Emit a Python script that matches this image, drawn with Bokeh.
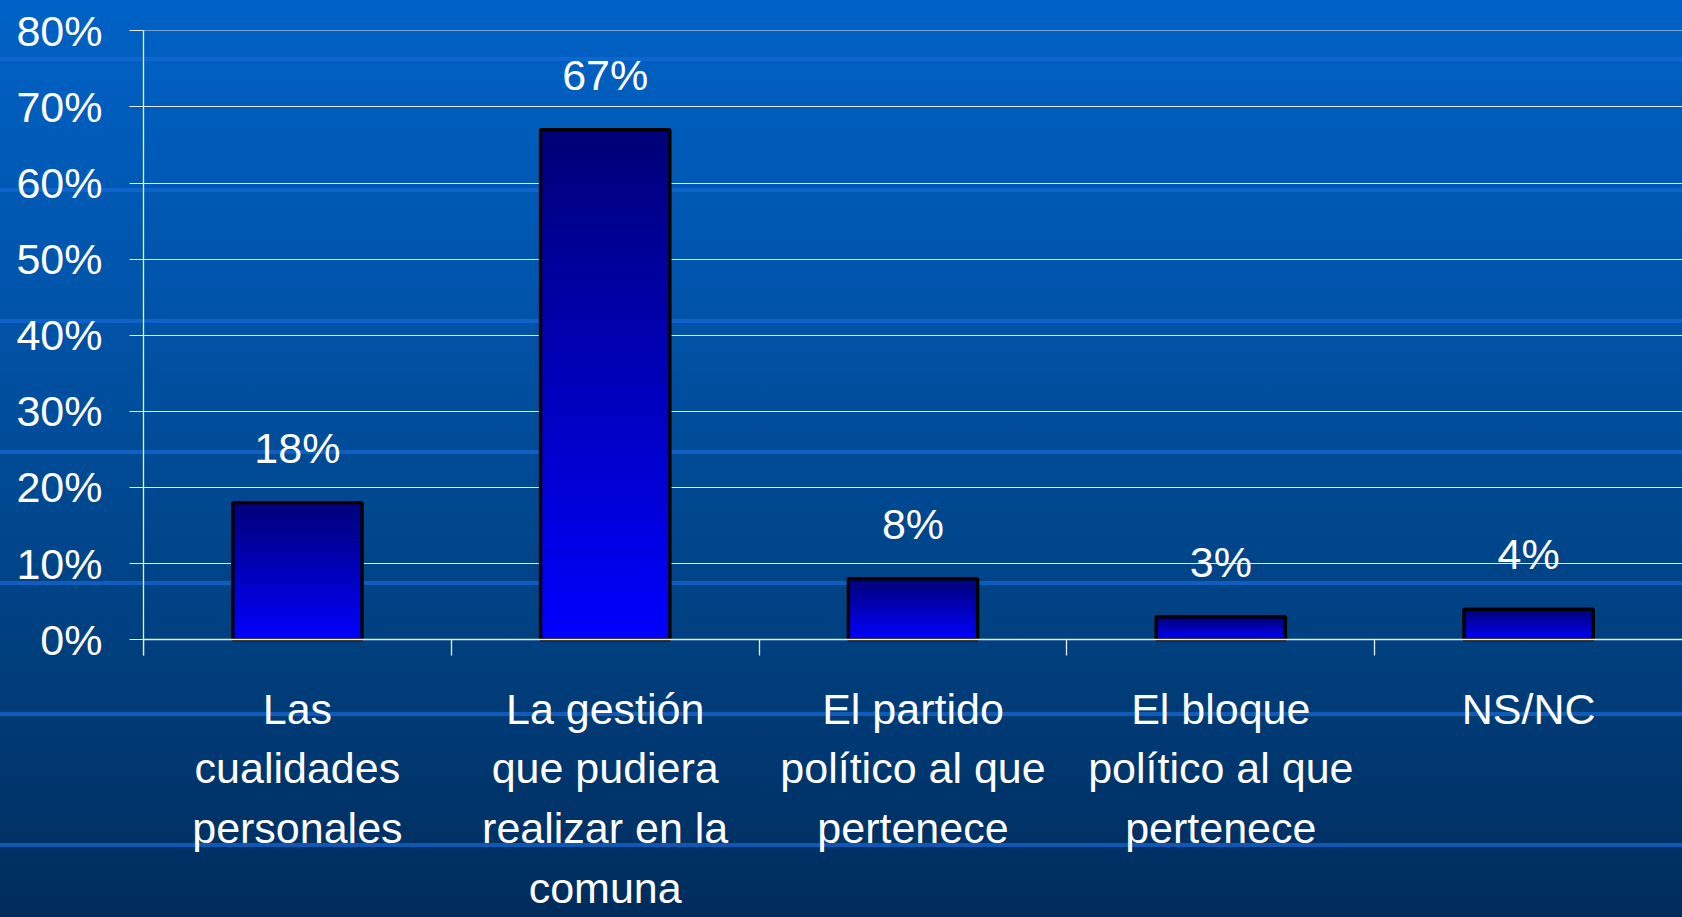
from bokeh.plotting import figure
from bokeh.models import (Range1d, LinearAxis, FixedTicker,
                          NumeralTickFormatter, ColumnDataSource, LabelSet)
from bokeh.core.properties import value
from bokeh.embed import file_html
from bokeh.resources import INLINE

# ---------------- data ----------------
categories = [
    "Las\ncualidades\npersonales",
    "La gestión\nque pudiera\nrealizar en la\ncomuna",
    "El partido\npolítico al que\npertenece",
    "El bloque\npolítico al que\npertenece",
    "NS/NC",
]
values = [0.18, 0.67, 0.08, 0.03, 0.04]
value_labels = ["18%", "67%", "8%", "3%", "4%"]
y_ticks = [0.0, 0.1, 0.2, 0.3, 0.4, 0.5, 0.6, 0.7, 0.8]

FONT = "Liberation Sans"
WHITE = "#ffffff"
LINE = "#e8eef8"

n = len(categories)
centers = [i + 0.5 for i in range(n)]      # category slot centres
bounds_ticks = [float(i) for i in range(n)]  # slot boundaries

p = figure(
    x_range=Range1d(0, n),
    y_range=Range1d(-0.3652, 0.8005),
    width=1682, height=917,
    output_backend="svg", toolbar_location=None,
    min_border_left=143, min_border_right=0,
    min_border_top=30, min_border_bottom=0,
)
p.background_fill_alpha = 0
p.border_fill_alpha = 0
p.outline_line_color = None

# ---- bars with a vertical gradient (dark navy top -> bright blue bottom) ----
N = 30
top_rgb = (0, 0, 120)
bot_rgb = (0, 0, 255)
gx, gb, gt, gc = [], [], [], []
for c, v in zip(centers, values):
    for k in range(N):
        t = (k + 0.5) / N  # 0 at bottom, 1 at top
        r = round(bot_rgb[0] + (top_rgb[0] - bot_rgb[0]) * t)
        g = round(bot_rgb[1] + (top_rgb[1] - bot_rgb[1]) * t)
        b = round(bot_rgb[2] + (top_rgb[2] - bot_rgb[2]) * t)
        gx.append(c)
        gb.append(v * k / N)
        gt.append(v * (k + 1) / N)
        gc.append("#%02x%02x%02x" % (r, g, b))
grad = ColumnDataSource(dict(x=gx, bottom=gb, top=gt, color=gc))
p.vbar(x="x", bottom="bottom", top="top", width=0.42, source=grad,
       fill_color="color", line_color="color", line_width=0.6)

src = ColumnDataSource(dict(x=centers, top=values, label=value_labels))
p.vbar(x="x", top="top", width=0.42, source=src,
       fill_alpha=0, line_color="#000000", line_width=3.4)

labels = LabelSet(x="x", y="top", text="label", source=src,
                  text_align="center", text_baseline="alphabetic", y_offset=40,
                  text_color=WHITE, text_font=value(FONT), text_font_size="43px")
p.add_layout(labels)

# ---- y axis ----
yax = p.yaxis[0]
yax.ticker = FixedTicker(ticks=y_ticks)
yax.formatter = NumeralTickFormatter(format="0%")
yax.bounds = (-0.021, 0.8)
yax.axis_line_color = LINE
yax.axis_line_width = 1.3
yax.major_tick_line_color = LINE
yax.major_tick_out = 14
yax.major_tick_in = 0
yax.minor_tick_line_color = None
yax.major_label_standoff = 27
yax.major_label_text_color = WHITE
yax.major_label_text_font = FONT
yax.major_label_text_font_size = "43px"

p.ygrid.grid_line_color = "#e3e9f3"
p.ygrid.grid_line_width = 1.2
p.xgrid.grid_line_color = None

# ---- category axis drawn at y = 0 ----
xax = p.xaxis[0]
xax.ticker = FixedTicker(ticks=centers)
xax.major_label_overrides = {c: lab for c, lab in zip(centers, categories)}
xax.fixed_location = 0
xax.axis_line_color = LINE
xax.axis_line_width = 1.3
xax.major_tick_line_color = None
xax.minor_tick_line_color = None
xax.major_tick_out = 0
xax.major_tick_in = 0
xax.major_label_standoff = 45
xax.major_label_text_color = WHITE
xax.major_label_text_font = FONT
xax.major_label_text_font_size = "43px"
xax.major_label_text_line_height = 1.247

# ---- boundary ticks between categories ----
bax = LinearAxis(ticker=FixedTicker(ticks=bounds_ticks),
                 fixed_location=0,
                 axis_line_color=None,
                 major_tick_line_color=LINE, major_tick_line_width=1.3,
                 major_tick_out=16, major_tick_in=0,
                 minor_tick_line_color=None,
                 major_label_overrides={t: "" for t in bounds_ticks},
                 major_label_text_font_size="1px")
p.add_layout(bax, "below")

html = file_html(p, INLINE)
style = """<style>
html { height: 100%;
  background:
    repeating-linear-gradient(to bottom, rgba(0,0,0,0) 0px, rgba(0,0,0,0) 57px,
        rgba(20,105,215,0.7) 57px, rgba(20,105,215,0.7) 61px,
        rgba(0,0,0,0) 61px, rgba(0,0,0,0) 131px),
    linear-gradient(to bottom, #0062c6 0%, #0053a8 35%, #00407f 70%, #002c5c 100%);
}
body { background: transparent; }
</style>"""
html = html.replace("</head>", style + "</head>", 1)
open("out.html", "w").write(html)
